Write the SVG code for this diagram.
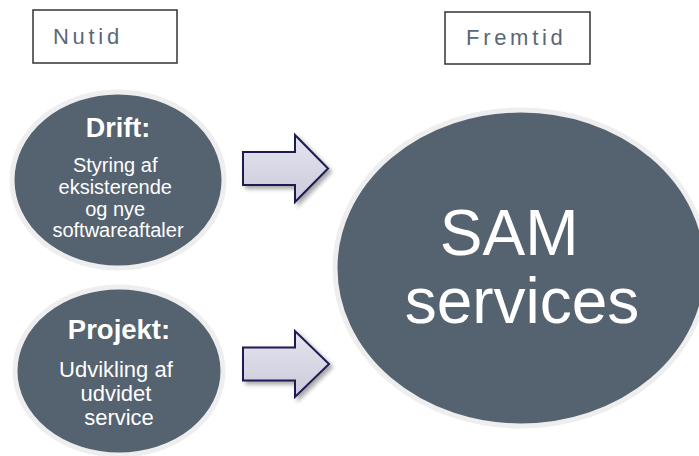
<svg xmlns="http://www.w3.org/2000/svg" width="699" height="456" viewBox="0 0 699 456">
  <style>
    .label-box { fill: #ffffff; stroke: #333333; stroke-width: 1.5; }
    .label-text { font-family: "Liberation Sans", Arial, sans-serif; font-size: 22px; letter-spacing: 3.7px; fill: #5b6775; }
    .disc { fill: #556270; stroke: #eeeeee; stroke-width: 5; }
    .title { font-family: "Liberation Sans", Arial, sans-serif; font-weight: bold; fill: #ffffff; text-anchor: middle; }
    .body { font-family: "Liberation Sans", Arial, sans-serif; fill: #ffffff; text-anchor: middle; }
    .arrow { fill: url(#arrowFill); stroke: #1e1a52; stroke-width: 2; stroke-linejoin: miter; filter: url(#shadow); }
  </style>
  <defs>
    <linearGradient id="arrowFill" x1="0" y1="0" x2="0" y2="1">
      <stop offset="0" stop-color="#e6e6f0"/>
      <stop offset="1" stop-color="#c9c9da"/>
    </linearGradient>
    <filter id="shadow" x="-20%" y="-20%" width="150%" height="150%">
      <feDropShadow dx="3" dy="3" stdDeviation="2" flood-color="#000000" flood-opacity="0.35"/>
    </filter>
  </defs>

  <rect width="699" height="456" fill="#ffffff"/>

  <!-- period headers -->
  <g id="nutid">
    <rect class="label-box" x="33" y="10" width="144" height="53"/>
    <text class="label-text" x="53" y="44">Nutid</text>
  </g>
  <g id="fremtid">
    <rect class="label-box" x="445" y="12" width="145" height="52"/>
    <text class="label-text" x="466" y="45">Fremtid</text>
  </g>

  <!-- current activities -->
  <g id="drift">
    <ellipse class="disc" cx="118" cy="180" rx="106" ry="88"/>
    <text class="title" x="118" y="137" font-size="27">Drift:</text>
    <text class="body" font-size="20">
      <tspan x="118" y="172">Styring af</tspan>
      <tspan x="118" y="194">eksisterende</tspan>
      <tspan x="118" y="215.5">og nye</tspan>
      <tspan x="118" y="237">softwareaftaler</tspan>
    </text>
  </g>
  <g id="projekt">
    <ellipse class="disc" cx="119" cy="371" rx="104" ry="84"/>
    <text class="title" x="119" y="339" font-size="27.5">Projekt:</text>
    <text class="body" font-size="22">
      <tspan x="119" y="377">Udvikling af</tspan>
      <tspan x="119" y="401">udvidet</tspan>
      <tspan x="119" y="425">service</tspan>
    </text>
  </g>

  <!-- future state -->
  <g id="sam-services">
    <ellipse class="disc" cx="521" cy="268" rx="186" ry="158"/>
    <text class="body" font-size="64">
      <tspan x="518" y="255">SAM</tspan>
      <tspan x="522" y="323">services</tspan>
    </text>
  </g>

  <!-- block arrows -->
  <g id="connectors">
    <path class="arrow" d="M243,152 H295 V135 L328,168.5 L295,202 V185 H243 Z"/>
    <path class="arrow" d="M243,347.5 H295 V331 L329,364 L295,397 V380.5 H243 Z"/>
  </g>
</svg>
